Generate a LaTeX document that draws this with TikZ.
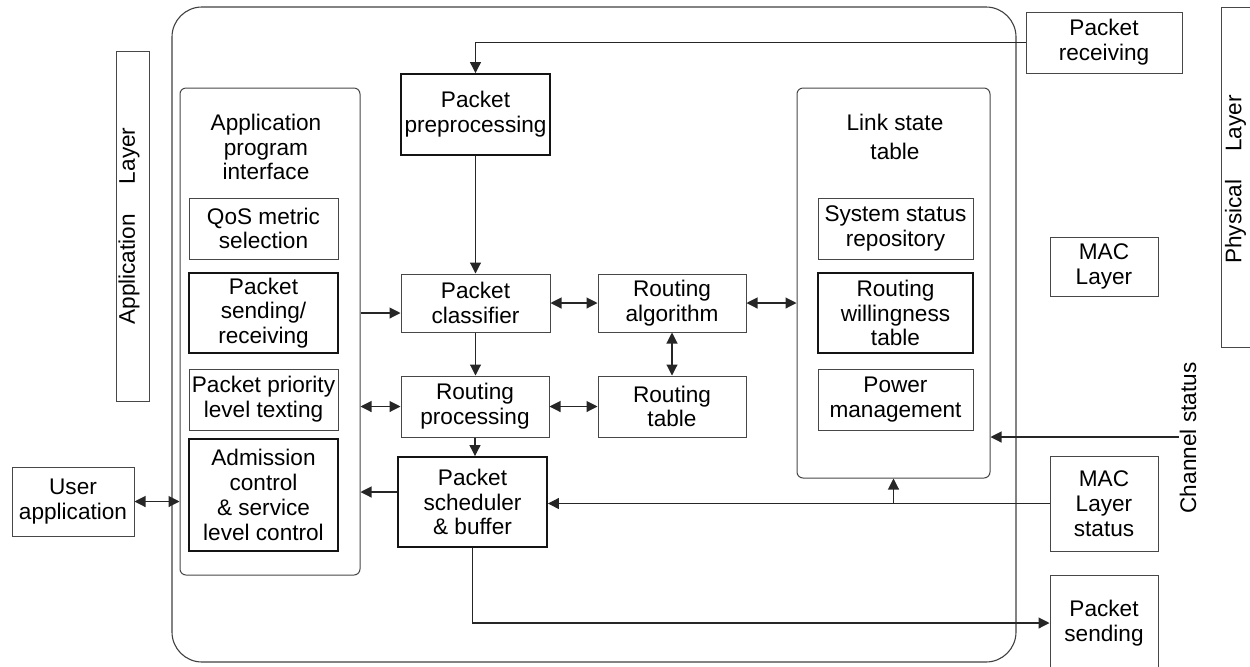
\documentclass[tikz,border=0pt]{standalone}
\usepackage{fontspec}
\setmainfont{Liberation Sans}
\usetikzlibrary{arrows.meta}
\begin{document}
\begin{tikzpicture}[x=0.5pt,y=-0.5pt,
  font=\fontsize{11.3}{12.4}\selectfont,
  sz/.style 2 args={minimum width={#1*0.5pt},minimum height={#2*0.5pt}},
  thinbox/.style={draw=black!72,line width=0.5pt,inner sep=0pt,align=center},
  thickbox/.style={draw=black!92,line width=0.95pt,inner sep=0pt,align=center},
  cont/.style={draw=black!72,line width=0.5pt,inner sep=0pt,rounded corners=3pt},
  lbl/.style={inner sep=0pt,align=center},
  >={Triangle[length=5.5pt,width=5.5pt]},
  every path/.append style={},
  conn/.style={draw=black!85,line width=0.55pt}
]
\clip (0,0) rectangle (1250,666);

% outer frame
\node[draw=black!75,line width=0.55pt,rounded corners=15pt,sz={844}{655}] (outer) at (594,334.5) {};

% application layer
\node[thinbox,sz={33}{350}] (applayer) at (132.5,226) {};
\node[lbl,rotate=90] (applayertxt) at (129,226) {Application\hspace{15pt}Layer};

% API container
\node[cont,sz={180}{487}] (api) at (270,331.5) {};
\node[lbl] (apitxt) at (266,147) {Application\\program\\interface};
\node[thinbox,sz={149}{61}] (qos) at (263.5,228.5) {QoS metric\\selection};
\node[thickbox,sz={149}{80}] (psr) at (263.5,313) {Packet\\sending/\\receiving};
\node[thinbox,sz={149}{61}] (ppl) at (263.5,399.5) {Packet priority\\level texting};
\node[thickbox,sz={149}{112}] (adm) at (263.5,495) {Admission\\control\\\& service\\level control};

\node[thinbox,sz={122}{69}] (user) at (73,501.5) {User\\application};

% middle column
\node[thickbox,sz={149}{81}] (pp) at (475.5,114.5) {Packet\\preprocessing};
\node[thinbox,sz={149}{58}] (pc) at (475.5,303) {Packet\\classifier};
\node[thinbox,sz={148}{58}] (ra) at (672,303) {Routing\\algorithm};
\node[thinbox,sz={148}{61}] (rp) at (475,406.5) {Routing\\processing};
\node[thinbox,sz={148}{61}] (rt) at (672,406.5) {Routing\\table};
\node[thickbox,sz={149}{90}] (psb) at (472.5,502) {Packet\\scheduler\\\& buffer};

% link state table container
\node[cont,sz={193}{390}] (lst) at (893.5,283) {};
\node[lbl] (lsttxt) at (895,137) {Link state\\[2.5pt]table};
\node[thinbox,sz={155}{61}] (ssr) at (895.5,228.5) {System status\\repository};
\node[thickbox,sz={155}{80}] (rwt) at (895.5,313) {Routing\\willingness\\table};
\node[thinbox,sz={155}{61}] (pm) at (895.5,399.5) {Power\\management};

% right side
\node[thinbox,sz={156}{61}] (prcv) at (1104,42.5) {Packet\\receiving};
\node[thinbox,sz={108}{59}] (mac) at (1104,266.5) {MAC\\Layer};
\node[thinbox,sz={108}{95}] (mls) at (1104,503.5) {MAC\\Layer\\status};
\node[thinbox,sz={108}{96}] (ps) at (1104,623) {Packet\\sending};
\node[thinbox,sz={42}{340}] (phys) at (1242,177) {};
\node[lbl,rotate=90] (phystxt) at (1235.5,179.5) {Physical\hspace{14pt}Layer};
\node[lbl,rotate=90] (chtxt) at (1188,438) {Channel status};
\coordinate (chend) at (1179,437);

% connectors
\draw[conn,->] (prcv.west) -| (pp.north);
\draw[conn,->] (pp.south) -- (pc.north);
\draw[conn,->] (api.east |- psr.east) -- (pc.west |- psr.east);
\draw[conn,<->] (pc.east) -- (ra.west);
\draw[conn,<->] (ra.east) -- (lst.west |- ra.east);
\draw[conn,->] (pc.south) -- (pc.south |- rp.north);
\draw[conn,<->] (ra.south) -- (rt.north);
\draw[conn,<->] (rp.east) -- (rt.west);
\draw[conn,<->] (api.east |- rp.west) -- (rp.west);
\draw[conn,->] (rp.south) -- (rp.south |- psb.north);
\coordinate (psbout) at ([yshift=5pt]psb.west);
\draw[conn,->] (psbout) -- (api.east |- psbout);
\draw[conn,->] (mls.west) -- (psb.east |- mls.west);
\draw[conn,->] (lst.south |- mls.west) -- (lst.south);
\draw[conn,->] (psb.south) |- (ps.west);
\draw[conn,<->] (user.east) -- (api.west |- user.east);
\draw[conn,->] (chend) -- (lst.east |- chend);
\end{tikzpicture}
\end{document}
